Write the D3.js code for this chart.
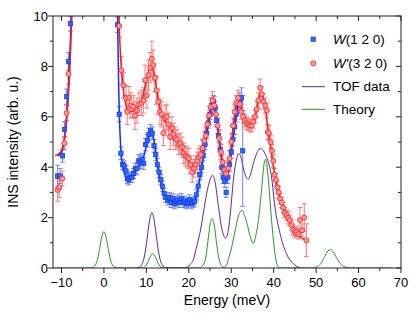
<!DOCTYPE html>
<html>
<head>
<script src="https://d3js.org/d3.v7.min.js"></script>
<style>
  body { margin: 0; background: #fff; font-family: Arial, "Liberation Sans", sans-serif; }
</style>
</head>
<body>
<svg id="chart" width="415" height="325"></svg>
<script>
// W(1 2 0) data: energy, intensity, error
var blueE = [-10.9, -10.3, -9.76, -9.3, -8.8, -8.35, -7.9,
  3.2, 3.6, 4.0, 4.4, 4.8, 5.2, 5.5, 5.8, 6.2, 6.6, 7.0, 7.4, 7.8, 8.2, 8.6, 9.0, 9.4, 9.8,
  10.2, 10.6, 11.0, 11.4, 11.8, 12.2, 12.6, 13.0, 13.4, 13.8, 14.2, 14.6, 15.0, 15.4, 15.8,
  16.2, 16.6, 17.0, 17.4, 17.8, 18.2, 18.6, 19.0, 19.4, 19.8, 20.2, 20.6, 21.0, 21.4, 21.8,
  22.2, 22.6, 23.0, 23.4, 23.8, 24.2, 24.6, 25.0, 25.4, 25.8, 26.2, 26.6, 27.0, 27.4, 27.8,
  28.1, 28.5, 28.8, 29.2, 29.6, 30.0, 30.4, 30.8, 31.2, 31.6, 32.0, 32.4, 32.7];
var blueI = [3.65, 3.65, 4.45, 5.5, 6.8, 8.2, 9.7,
  9.65, 6.1, 4.55, 4.1, 4.05, 3.85, 3.55, 3.5, 3.6, 3.6, 3.75, 3.95, 3.95, 4.25, 4.2, 4.3, 4.15, 4.9,
  5.05, 5.3, 5.45, 5.35, 4.85, 4.5, 4.1, 3.8, 3.5, 3.25, 2.95, 2.8, 2.7, 2.8, 2.6,
  2.75, 2.55, 2.65, 2.7, 2.6, 2.75, 2.6, 2.65, 2.55, 2.6, 2.7, 2.55, 2.6, 2.65, 2.9,
  3.25, 3.7, 4.0, 4.45, 4.9, 5.35, 5.75, 6.1, 6.45, 6.6, 6.35, 5.85, 5.25, 4.7, 4.0,
  3.6, 3.45, 3.0, 3.6, 4.1, 4.6, 5.1, 5.6, 6.1, 6.5, 6.6, 6.75, 4.65];
var blueErr = [0.43, 0.3, 0.25, 0.3, 0.3, 0.35, 0.3,
  0.3, 0.3, 0.25, 0.2, 0.2, 0.2, 0.2, 0.2, 0.2, 0.2, 0.2, 0.2, 0.25, 0.25, 0.25, 0.25, 0.25, 0.25,
  0.25, 0.25, 0.25, 0.25, 0.25, 0.25, 0.25, 0.2, 0.2, 0.2, 0.2, 0.2, 0.2, 0.2, 0.2,
  0.2, 0.2, 0.2, 0.2, 0.2, 0.2, 0.2, 0.2, 0.2, 0.2, 0.2, 0.2, 0.2, 0.2, 0.2,
  0.2, 0.2, 0.2, 0.2, 0.2, 0.2, 0.2, 0.2, 0.25, 0.25, 0.25, 0.25, 0.25, 0.25, 0.25,
  0.25, 0.25, 0.2, 0.25, 0.25, 0.25, 0.25, 0.3, 0.3, 0.3, 0.35, 0.4, 2.2];

// W'(3 2 0) data
var redE = [-10.9, -10.5, -9.8, -9.3, -8.8, -8.35,
  3.6, 4.1, 4.6, 5.2, 5.5, 5.9, 6.3, 6.9, 7.3, 7.8, 8.3, 8.9, 9.3, 9.7, 10.1, 10.5, 10.9, 11.3,
  11.6, 12.0, 12.4, 12.8, 13.2, 13.6, 14.0, 14.4, 14.8, 15.2, 15.6, 16.0, 16.4, 16.8, 17.2,
  17.6, 18.0, 18.4, 18.8, 19.2, 19.6, 20.0, 20.4, 20.8, 21.2, 21.6, 22.0, 22.4, 22.8, 23.2,
  23.6, 24.0, 24.4, 24.8, 25.2, 25.6, 26.0, 26.4, 26.8, 27.2, 27.6, 28.0, 28.4, 28.8, 29.2,
  29.6, 30.0, 30.4, 30.8, 31.2, 31.6, 32.0, 32.4, 32.8, 33.2, 33.6, 34.0, 34.4, 34.8, 35.2,
  35.6, 36.0, 36.4, 36.8, 37.2, 37.6, 38.0, 38.4, 38.6, 38.9, 39.3, 39.6, 39.9, 40.2, 40.5,
  40.9, 41.2, 41.5, 41.9, 42.2, 42.6, 43.0, 43.4, 43.8, 44.2, 44.6, 45.0, 45.4, 45.8, 46.2,
  46.7, 47.2, 47.7];
var redI = [3.1, 3.2, 3.55, 4.95, 6.15, 7.7,
  9.6, 7.85, 7.25, 6.75, 6.2, 6.75, 6.45, 6.4, 6.05, 6.25, 6.5, 6.55, 6.65, 7.45, 6.85, 7.65, 7.95, 8.3,
  8.05, 7.55, 7.05, 6.6, 6.2, 6.1, 5.35, 5.95, 6.0, 5.7, 5.2, 5.55, 5.3, 5.15, 5.1,
  4.9, 4.95, 4.8, 4.55, 4.45, 4.4, 4.35, 4.1, 3.8, 3.95, 4.1, 4.25, 4.4, 4.5, 4.75,
  5.05, 5.25, 5.7, 6.05, 6.4, 6.65, 6.45, 6.1, 5.65, 5.15, 4.6, 4.2, 3.9, 3.75, 3.95,
  4.35, 5.0, 5.65, 6.2, 6.55, 6.75, 6.5, 6.2, 6.0, 5.85, 5.75, 5.7, 5.65, 5.65, 5.8,
  6.0, 6.3, 6.65, 7.15, 6.9, 6.6, 6.45, 6.25, 5.4, 5.35, 5.0, 4.65, 4.25, 3.7, 3.5,
  3.2, 3.0, 2.75, 2.6, 2.4, 2.2, 2.1, 2.0, 1.9, 1.7, 1.5, 1.4, 1.45, 1.35, 1.9,
  1.5, 2.0, 1.1];
var redErr = [0.45, 0.4, 0.3, 0.25, 0.3, 0.4,
  0.45, 0.55, 0.5, 0.5, 0.5, 0.45, 0.5, 0.45, 0.55, 0.5, 0.45, 0.5, 0.5, 0.6, 0.5, 0.6, 0.6, 0.7,
  0.6, 0.55, 0.55, 0.5, 0.5, 0.5, 0.5, 0.5, 0.5, 0.45, 0.5, 0.45, 0.45, 0.45, 0.4,
  0.4, 0.4, 0.4, 0.4, 0.4, 0.4, 0.4, 0.35, 0.4, 0.35, 0.35, 0.35, 0.35, 0.35, 0.35,
  0.35, 0.35, 0.35, 0.35, 0.35, 0.35, 0.35, 0.3, 0.3, 0.3, 0.3, 0.3, 0.3, 0.3, 0.3,
  0.3, 0.3, 0.3, 0.3, 0.3, 0.3, 0.3, 0.3, 0.25, 0.25, 0.25, 0.25, 0.25, 0.25, 0.25,
  0.25, 0.3, 0.3, 0.35, 0.3, 0.3, 0.3, 0.3, 0.3, 0.3, 0.25, 0.25, 0.25, 0.25, 0.25,
  0.25, 0.25, 0.2, 0.2, 0.2, 0.2, 0.2, 0.25, 0.2, 0.2, 0.2, 0.2, 0.2, 0.2, 0.5,
  0.25, 0.55, 0.65];

// fit lines through the two data sets
var blueFitE = [-10.9, -10.5, -10, -9.5, -9, -8.5, -8, -7.6, -7.3, 3.1, 3.3, 3.5, 3.8, 4.2, 4.6, 5, 5.5, 6, 6.5, 7, 7.5, 8, 8.5, 9, 9.5, 10, 10.5, 11, 11.5, 12, 12.5, 13, 13.5, 14, 14.5, 15, 16, 17, 18, 19, 20, 21, 21.5, 22, 22.5, 23, 23.5, 24, 24.5, 25, 25.5, 26, 26.5, 27, 27.5, 28, 28.5, 28.8, 29.2, 29.6, 30, 30.5, 31, 31.5, 32, 32.5];
var blueFitI = [4.45, 4.5, 4.6, 4.9, 5.6, 6.8, 8.6, 10.3, 11.5, 11.5, 9.0, 7.0, 5.3, 4.3, 3.9, 3.7, 3.55, 3.55, 3.6, 3.7, 3.85, 4.0, 4.15, 4.3, 4.5, 4.85, 5.2, 5.4, 5.3, 4.85, 4.25, 3.7, 3.3, 3.0, 2.8, 2.72, 2.68, 2.65, 2.65, 2.63, 2.62, 2.65, 2.75, 3.0, 3.45, 3.95, 4.5, 5.05, 5.6, 6.1, 6.45, 6.4, 5.95, 5.3, 4.6, 4.0, 3.55, 3.45, 3.6, 4.05, 4.55, 5.2, 5.85, 6.35, 6.65, 6.75];
var redFitE = [-11.5, -10.5, -10, -9.5, -9, -8.5, -8, -7.6, -7.3, 3.3, 3.6, 4, 4.5, 5, 5.5, 6, 6.5, 7, 7.5, 8, 8.5, 9, 9.5, 10, 10.5, 11, 11.5, 12, 12.5, 13, 13.5, 14, 15, 16, 17, 18, 19, 20, 20.5, 21, 21.5, 22, 22.5, 23, 23.5, 24, 24.5, 25, 25.5, 26, 26.5, 27, 27.5, 28, 28.5, 29, 29.5, 30, 30.5, 31, 31.5, 32, 32.5, 33, 33.5, 34, 34.5, 35, 35.5, 36, 36.5, 37, 37.5, 38, 38.5, 39, 39.5, 40, 40.5, 41, 41.5, 42, 42.5, 43, 43.5, 44, 44.5, 45, 45.5, 46, 46.5, 47, 47.7];
var redFitI = [4.45, 4.55, 4.65, 4.95, 5.5, 6.5, 8.0, 9.8, 11.5, 11.5, 9.6, 8.2, 7.2, 6.6, 6.3, 6.2, 6.2, 6.25, 6.3, 6.4, 6.55, 6.75, 7.05, 7.45, 7.8, 8.0, 7.9, 7.5, 7.0, 6.5, 6.15, 5.95, 5.7, 5.45, 5.15, 4.85, 4.5, 4.2, 4.05, 4.0, 4.05, 4.2, 4.4, 4.65, 5.0, 5.35, 5.8, 6.25, 6.55, 6.45, 6.0, 5.35, 4.7, 4.15, 3.85, 3.8, 4.15, 4.85, 5.65, 6.25, 6.6, 6.55, 6.25, 5.95, 5.75, 5.65, 5.6, 5.65, 5.9, 6.3, 6.75, 6.95, 6.8, 6.4, 5.7, 5.1, 4.5, 3.95, 3.45, 3.05, 2.75, 2.5, 2.25, 2.05, 1.9, 1.75, 1.6, 1.45, 1.35, 1.28, 1.2, 1.15, 1.1];

// TOF data (purple)
var tofE = [7.5, 8.3, 8.8, 9.3, 9.8, 10.3, 10.8, 11.3, 11.8, 12.3, 12.8, 13.3, 13.8, 14.3, 15, 19, 19.5, 20, 20.5, 21, 21.5, 22, 22.6, 23.5, 24.2, 25, 25.6, 26.2, 26.9, 27.7, 28.2, 28.7, 29.2, 29.7, 30.1, 30.5, 31.1, 31.8, 32.3, 32.8, 33.4, 34.0, 34.6, 35.2, 36.0, 36.8, 37.3, 38.3, 39.5, 40.3, 41.5, 43.0, 44.6, 46.2];
var tofI = [0, 0.025, 0.1, 0.3, 0.71, 1.33, 1.94, 2.2, 1.94, 1.33, 0.71, 0.3, 0.1, 0.025, 0, 0, 0.02, 0.08, 0.18, 0.3, 0.6, 0.95, 1.37, 2.25, 2.95, 3.5, 3.68, 3.4, 2.55, 1.63, 1.3, 1.19, 1.4, 2.02, 2.75, 3.48, 4.2, 4.54, 4.4, 4.0, 3.65, 3.52, 3.75, 4.14, 4.55, 4.74, 4.7, 4.41, 3.61, 2.42, 1.37, 0.57, 0.17, 0.01];

// Theory (green)
var thE = [-12, -3.5, -3, -2.5, -2, -1.5, -1, -0.5, 0, 0.5, 1, 1.5, 2, 2.5, 3, 3.5, 9, 9.5, 10, 10.5, 11, 11.5, 12, 12.5, 13, 13.5, 14, 22.5, 23, 23.5, 24, 24.5, 25, 25.5, 26, 26.5, 27, 27.5, 28, 28.5, 29, 29.5, 30, 30.5, 31, 31.5, 32, 32.6, 33.2, 33.6, 34.4, 35.2, 35.8, 36.4, 37.2, 37.7, 38.1, 38.7, 39.5, 40.3, 40.7, 41.1, 41.5, 49.5, 50, 51, 52, 52.8, 53.4, 54, 55, 56, 57, 58, 68];
var thI = [0, 0, 0.01, 0.03, 0.12, 0.36, 0.78, 1.24, 1.45, 1.24, 0.78, 0.36, 0.12, 0.03, 0.01, 0, 0, 0.03, 0.12, 0.3, 0.48, 0.57, 0.48, 0.3, 0.12, 0.03, 0, 0, 0.05, 0.15, 0.4, 1.05, 1.7, 1.96, 1.7, 1.05, 0.45, 0.15, 0.04, 0.03, 0.15, 0.45, 0.75, 1.15, 1.55, 1.95, 2.2, 2.29, 2.05, 1.85, 1.3, 0.97, 1.3, 1.89, 3.2, 4.1, 4.32, 3.61, 1.89, 0.57, 0.2, 0.04, 0, 0, 0.03, 0.15, 0.45, 0.68, 0.73, 0.65, 0.35, 0.12, 0.03, 0, 0];

var xTicks = [-10, 0, 10, 20, 30, 40, 50, 60, 70];
var yTicks = [0, 2, 4, 6, 8, 10];

var svg = d3.select("#chart");
var margin = {left: 53, top: 16, right: 14, bottom: 57};
var W = 415 - margin.left - margin.right, H = 325 - margin.top - margin.bottom;
var g = svg.append("g").attr("transform", "translate(" + margin.left + "," + margin.top + ")");

var x = d3.scaleLinear().domain([-12, 70]).range([0, W]);
var y = d3.scaleLinear().domain([0, 10]).range([H, 0]);

svg.append("defs").append("clipPath").attr("id", "clip")
  .append("rect").attr("x", 0).attr("y", 0).attr("width", W).attr("height", H);

var plot = g.append("g").attr("clip-path", "url(#clip)");

function zip(a, b) { return a.map(function (v, i) { return [v, b[i]]; }); }
var line = d3.line().x(function (d) { return x(d[0]); }).y(function (d) { return y(d[1]); })
  .curve(d3.curveMonotoneX);

// theory and TOF
plot.append("path").attr("d", line(zip(thE, thI)))
  .attr("fill", "none").attr("stroke", "#1f9a1f").attr("stroke-width", 1);
plot.append("path").attr("d", line(zip(tofE, tofI)))
  .attr("fill", "none").attr("stroke", "#57289c").attr("stroke-width", 1);

function errBars(E, I, Er, col) {
  var eg = plot.append("g").attr("stroke", col).attr("stroke-width", 1).attr("opacity", 0.75);
  E.forEach(function (e, i) {
    var cx = x(e), y0 = y(I[i] - Er[i]), y1 = y(I[i] + Er[i]);
    eg.append("line").attr("x1", cx).attr("x2", cx).attr("y1", y0).attr("y2", y1);
    eg.append("line").attr("x1", cx - 2.5).attr("x2", cx + 2.5).attr("y1", y0).attr("y2", y0);
    eg.append("line").attr("x1", cx - 2.5).attr("x2", cx + 2.5).attr("y1", y1).attr("y2", y1);
  });
}

errBars(blueE, blueI, blueErr, "#3a5cff");
errBars(redE, redI, redErr, "#ff4a4a");

plot.append("path").attr("d", line(zip(blueFitE, blueFitI)))
  .attr("fill", "none").attr("stroke", "#1030ff").attr("stroke-width", 1.5);
plot.append("path").attr("d", line(zip(redFitE, redFitI)))
  .attr("fill", "none").attr("stroke", "#ff1a1a").attr("stroke-width", 1.5);

plot.selectAll(".bsq").data(zip(blueE, blueI)).enter().append("rect")
  .attr("x", function (d) { return x(d[0]) - 2.2; })
  .attr("y", function (d) { return y(d[1]) - 2.2; })
  .attr("width", 4.4).attr("height", 4.4)
  .attr("fill", "#2f62ff").attr("stroke", "#1236d8").attr("stroke-width", 0.6);

plot.selectAll(".rci").data(zip(redE, redI)).enter().append("circle")
  .attr("cx", function (d) { return x(d[0]); })
  .attr("cy", function (d) { return y(d[1]); })
  .attr("r", 2.5)
  .attr("fill", "#ff9a9a").attr("stroke", "#ff2a2a").attr("stroke-width", 0.9);

// axes
var ax = g.append("g").attr("font-size", 13).attr("fill", "#000");
g.append("rect").attr("width", W).attr("height", H).attr("fill", "none").attr("stroke", "#222").attr("stroke-width", 1);

var minorX = d3.range(-5, 70, 10);
var minorY = d3.range(1, 10, 2);
xTicks.forEach(function (t) {
  ax.append("line").attr("x1", x(t)).attr("x2", x(t)).attr("y1", H).attr("y2", H + 5).attr("stroke", "#222");
  ax.append("line").attr("x1", x(t)).attr("x2", x(t)).attr("y1", 0).attr("y2", 5).attr("stroke", "#222");
  ax.append("text").attr("x", x(t)).attr("y", H + 19).attr("text-anchor", "middle")
    .text(t < 0 ? "\u2212" + Math.abs(t) : t);
});
minorX.forEach(function (t) {
  ax.append("line").attr("x1", x(t)).attr("x2", x(t)).attr("y1", H).attr("y2", H + 3).attr("stroke", "#222");
  ax.append("line").attr("x1", x(t)).attr("x2", x(t)).attr("y1", 0).attr("y2", 3).attr("stroke", "#222");
});
yTicks.forEach(function (t) {
  ax.append("line").attr("x1", -5).attr("x2", 0).attr("y1", y(t)).attr("y2", y(t)).attr("stroke", "#222");
  ax.append("line").attr("x1", W - 5).attr("x2", W).attr("y1", y(t)).attr("y2", y(t)).attr("stroke", "#222");
  ax.append("text").attr("x", -5).attr("y", y(t)).attr("dy", "0.35em").attr("text-anchor", "end").text(t);
});
minorY.forEach(function (t) {
  ax.append("line").attr("x1", -3).attr("x2", 0).attr("y1", y(t)).attr("y2", y(t)).attr("stroke", "#222");
  ax.append("line").attr("x1", W - 3).attr("x2", W).attr("y1", y(t)).attr("y2", y(t)).attr("stroke", "#222");
});

g.append("text").attr("x", W / 2).attr("y", H + 37).attr("text-anchor", "middle")
  .attr("font-size", 14).text("Energy (meV)");
g.append("text").attr("transform", "translate(" + (-35) + "," + (H / 2) + ") rotate(-90)")
  .attr("text-anchor", "middle").attr("font-size", 14).text("INS intensity (arb. u.)");

// legend
var lg = svg.append("g").attr("font-size", 13.5);
lg.append("rect").attr("x", 311).attr("y", 37).attr("width", 4.4).attr("height", 4.4)
  .attr("fill", "#2f62ff").attr("stroke", "#1236d8").attr("stroke-width", 0.6);
var t1 = lg.append("text").attr("x", 333).attr("y", 44);
t1.append("tspan").attr("font-style", "italic").text("W");
t1.append("tspan").text("(1 2 0)");
lg.append("circle").attr("cx", 313.3).attr("cy", 63.3).attr("r", 2.5)
  .attr("fill", "#ff9a9a").attr("stroke", "#ff2a2a").attr("stroke-width", 0.9);
var t2 = lg.append("text").attr("x", 333).attr("y", 68);
t2.append("tspan").attr("font-style", "italic").text("W\u2032");
t2.append("tspan").text("(3 2 0)");
lg.append("line").attr("x1", 302).attr("x2", 325).attr("y1", 86.7).attr("y2", 86.7).attr("stroke", "#57289c");
lg.append("text").attr("x", 333).attr("y", 91).text("TOF data");
lg.append("line").attr("x1", 302).attr("x2", 325).attr("y1", 109.3).attr("y2", 109.3).attr("stroke", "#1f9a1f");
lg.append("text").attr("x", 333).attr("y", 114).text("Theory");
</script>
</body>
</html>
